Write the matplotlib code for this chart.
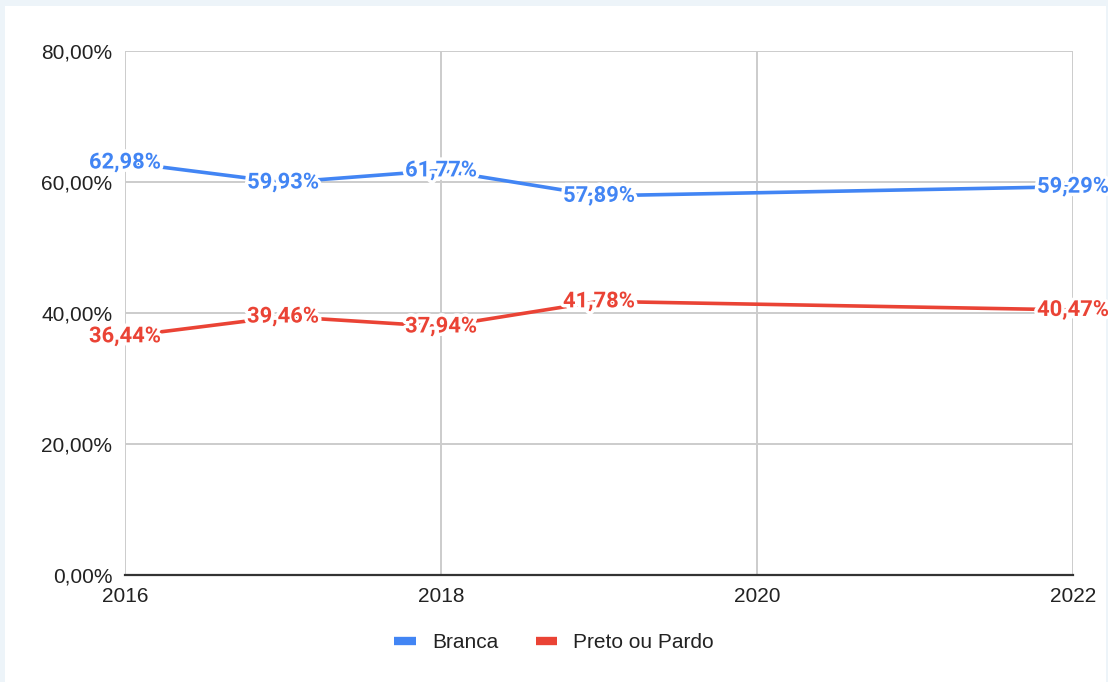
import matplotlib.pyplot as plt
import matplotlib.patheffects as pe
from matplotlib.patches import Rectangle
from matplotlib.ticker import FuncFormatter, MultipleLocator

# ── dados ─────────────────────────────────────────────────────────────────────
anos = [2016, 2017, 2018, 2019, 2022]
branca = [62.98, 59.93, 61.77, 57.89, 59.29]
preto_pardo = [36.44, 39.46, 37.94, 41.78, 40.47]
series_nomes = ["Branca", "Preto ou Pardo"]

AZUL = "#4285F4"
VERMELHO = "#EA4335"
GRADE = "#CCCCCC"
TEXTO = "#222222"


def pct_br(v, _pos=None):
    """80.0 -> '80,00%'"""
    return f"{v:.2f}".replace(".", ",") + "%"


fig = plt.figure(figsize=(11.08, 6.82), dpi=100, facecolor="#EDF4F9")
# fundo branco do cartão (a borda azulada fica visível em cima e à esquerda)
fig.patches.append(Rectangle((5 / 1108, 0), 1101 / 1108, 676 / 682,
                             transform=fig.transFigure, facecolor="white",
                             edgecolor="none", zorder=-10))

ax = fig.add_axes([125 / 1108, 1 - 575 / 682, 948 / 1108, 524 / 682])
ax.set_facecolor("white")

ax.set_xlim(2016, 2022)
ax.set_ylim(0, 80)
ax.xaxis.set_major_locator(MultipleLocator(2))
ax.yaxis.set_major_locator(MultipleLocator(20))
ax.yaxis.set_major_formatter(FuncFormatter(pct_br))
ax.xaxis.set_major_formatter(FuncFormatter(lambda v, p: f"{int(v)}"))

ax.grid(True, color=GRADE, linewidth=1.4)
ax.set_axisbelow(True)
for lado in ("top", "right", "left"):
    ax.spines[lado].set_visible(False)
ax.spines["bottom"].set_color("#333333")
ax.spines["bottom"].set_linewidth(1.6)
ax.spines["bottom"].set_zorder(2.5)

ax.tick_params(axis="both", length=0, labelsize=15, labelcolor=TEXTO)
ax.tick_params(axis="y", pad=9)
ax.tick_params(axis="x", pad=9)
for lbl in ax.get_xticklabels() + ax.get_yticklabels():
    lbl.set_fontfamily("Liberation Sans")

halo = [pe.withStroke(linewidth=5, foreground="white")]
for vals, cor, nome in ((branca, AZUL, series_nomes[0]),
                        (preto_pardo, VERMELHO, series_nomes[1])):
    ax.plot(anos, vals, color=cor, linewidth=2.6, label=nome,
            solid_capstyle="round", clip_on=False, zorder=3)
    for x, y in zip(anos, vals):
        ax.text(x, y, pct_br(y), color=cor, fontsize=15.8, fontweight="bold",
                family="Roboto", ha="center", va="center",
                path_effects=halo, zorder=4, clip_on=False)

handles, labels = ax.get_legend_handles_labels()
leg = fig.legend(handles, labels, loc="center", bbox_to_anchor=(0.5, 1 - 643 / 682),
                 ncol=2, frameon=False, handlelength=1.05, handletextpad=0.75,
                 columnspacing=1.8, prop={"family": "Liberation Sans", "size": 15})
for linha in leg.get_lines():
    linha.set_linewidth(6)
    linha.set_solid_capstyle("butt")
for t in leg.get_texts():
    t.set_color(TEXTO)

fig.savefig("out.png", dpi=100, facecolor=fig.get_facecolor())
